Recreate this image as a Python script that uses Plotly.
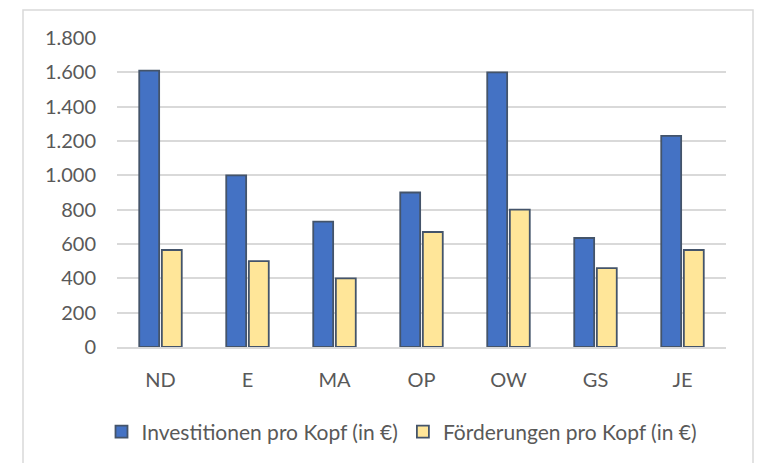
import plotly.graph_objects as go

categories = ["ND", "E", "MA", "OP", "OW", "GS", "JE"]
investitionen = [1610, 1000, 730, 900, 1600, 635, 1230]
foerderungen = [565, 500, 400, 670, 800, 460, 565]
series_names = ["Investitionen pro Kopf (in €)", "Förderungen pro Kopf (in €)"]
y_ticks = [0, 200, 400, 600, 800, 1000, 1200, 1400, 1600, 1800]

FONT = "Lato"
TXT = "#595959"
OUTLINE = "#44546A"

fig = go.Figure()
fig.add_trace(go.Bar(x=categories, y=investitionen, name=series_names[0],
                     marker=dict(color="#4472C4", line=dict(color=OUTLINE, width=1.8))))
fig.add_trace(go.Bar(x=categories, y=foerderungen, name=series_names[1],
                     marker=dict(color="#FFE699", line=dict(color=OUTLINE, width=1.8))))

# page body has an 8px margin; compensate so the plot area lands at page x 117-726, y 38-347
OFF = 8
L, T = 117 - OFF, 38 - OFF
pw, ph = 609, 309
W, H = 765 - OFF, 463 - OFF
R, B = W - L - pw, H - T - ph

fig.update_layout(
    width=W, height=H,
    margin=dict(l=L, r=R, t=T, b=B, autoexpand=False),
    paper_bgcolor="white", plot_bgcolor="white",
    separators=",.",
    barmode="group", bargap=0.48, bargroupgap=0.12,
    font=dict(family=FONT, size=20, color=TXT),
    showlegend=True,
    legend=dict(orientation="h", x=(402 - 117) / pw, xanchor="center",
                y=(347 - 432) / ph, yanchor="middle",
                font=dict(family=FONT, size=21, color=TXT), itemwidth=30,
                traceorder="normal"),
    xaxis=dict(showgrid=False, showline=True, linecolor="#D9D9D9", linewidth=1.5,
               ticks="", ticklabelstandoff=14, tickfont=dict(size=20, color=TXT)),
    yaxis=dict(range=[0, 1800], tickvals=y_ticks, tickformat=",d",
               showgrid=True, gridcolor="#D9D9D9", gridwidth=1.5,
               zeroline=False, showline=False, ticks="", ticklabelstandoff=20,
               tickfont=dict(size=20, color=TXT)),
    shapes=[dict(type="rect", xref="paper", yref="paper",
                 x0=(23 - 117) / pw, x1=(753 - 117) / pw,
                 y0=(347 - 480) / ph, y1=1 + (38 - 10) / ph,
                 line=dict(color="#D9D9D9", width=1.5), layer="below")],
)

fig.write_html("out.html")
